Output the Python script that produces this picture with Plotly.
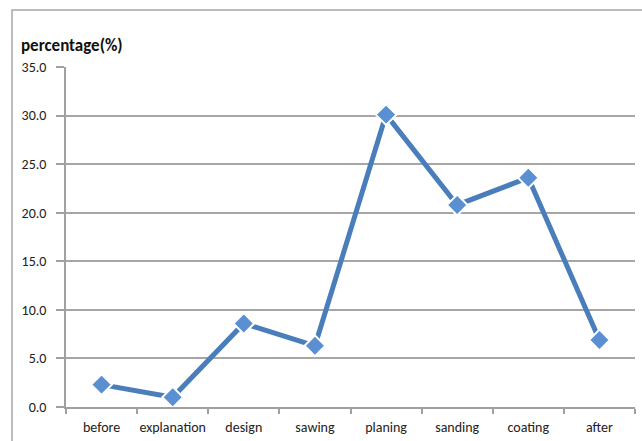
import plotly.graph_objects as go

categories = ["before", "explanation", "design", "sawing", "planing", "sanding", "coating", "after"]
values = [2.3, 1.0, 8.6, 6.3, 30.1, 20.8, 23.6, 6.9]
y_ticks = [0, 5, 10, 15, 20, 25, 30, 35]
y_tick_labels = ["%.1f" % v for v in y_ticks]

fig = go.Figure()
fig.add_trace(go.Scatter(
    x=categories, y=values, mode="lines+markers",
    line=dict(color="#4A7EBB", width=5),
    marker=dict(symbol="diamond", size=16, color="#5A8FD2",
                line=dict(color="white", width=2)),
    hoverinfo="x+y",
))

font_family = "Carlito, Lato, 'Open Sans', sans-serif"

fig.update_layout(
    width=642, height=441,
    margin=dict(l=66, r=7, t=67, b=34),
    paper_bgcolor="white", plot_bgcolor="white",
    showlegend=False,
    font=dict(family=font_family, size=14, color="#222222"),
    xaxis=dict(
        type="category", showgrid=False, showline=True, linecolor="#A0A0A0", linewidth=1.5,
        ticks="outside", tickson="boundaries", ticklen=5, tickcolor="#A0A0A0", tickwidth=1.5,
        tickfont=dict(size=14, family=font_family, color="#222222"),
        tickangle=0, automargin=False, ticklabelstandoff=6,
        range=[-0.5, len(categories) - 0.5],
    ),
    yaxis=dict(
        range=[0, 35], tickvals=y_ticks, ticktext=y_tick_labels,
        showgrid=True, gridcolor="#A6A6A6", gridwidth=1.5,
        showline=True, linecolor="#A0A0A0", linewidth=1.5,
        ticks="outside", ticklen=8, tickcolor="#A0A0A0", tickwidth=1.5,
        tickfont=dict(size=14, family=font_family, color="#222222"),
        zeroline=False, fixedrange=True, automargin=False, ticklabelstandoff=7,
    ),
    annotations=[dict(
        text="<b>percentage(%)</b>", xref="paper", yref="paper",
        x=(19 - 66) / 569, y=(407 - 45) / 340, xanchor="left", yanchor="middle",
        showarrow=False, font=dict(size=17, family=font_family, color="#111111"),
    )],
    shapes=[dict(
        type="rect", xref="paper", yref="paper",
        x0=(12 - 66) / 569, x1=(660 - 66) / 569,
        y0=(407 - 460) / 340, y1=(407 - 10) / 340,
        line=dict(color="#A6A6A6", width=1.5), layer="below",
    )],
)

fig.write_html("out.html")
